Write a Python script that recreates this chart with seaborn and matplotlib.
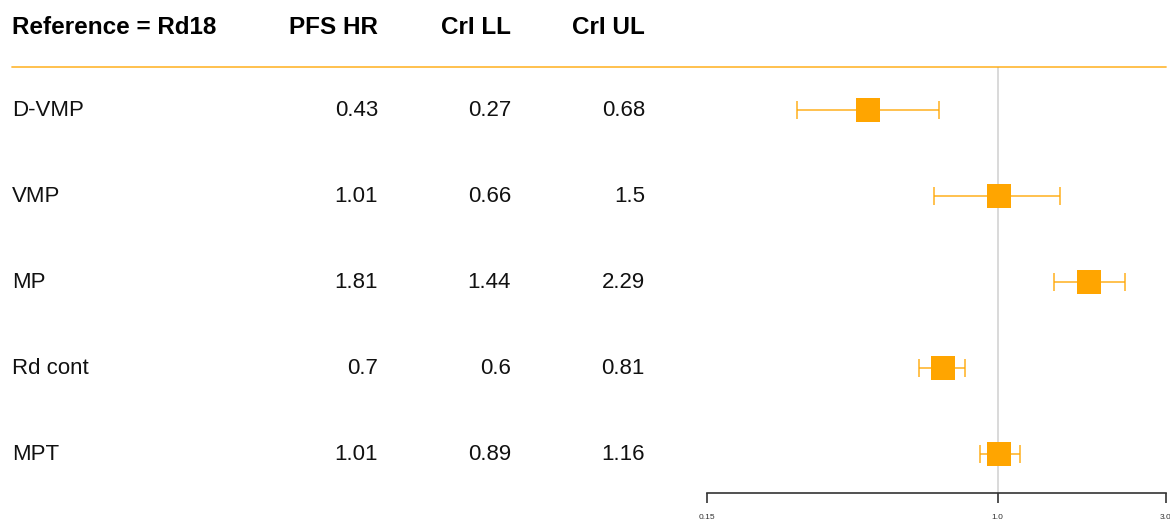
import matplotlib
matplotlib.use("Agg")
import matplotlib.pyplot as plt
import matplotlib.transforms as mtransforms
import pandas as pd
import seaborn as sns

# ---- data ----
treatments = ["D-VMP", "VMP", "MP", "Rd cont", "MPT"]
hr = [0.43, 1.01, 1.81, 0.70, 1.01]
cri_ll = [0.27, 0.66, 1.44, 0.60, 0.89]
cri_ul = [0.68, 1.50, 2.29, 0.81, 1.16]
hr_text = ["0.43", "1.01", "1.81", "0.7", "1.01"]
ll_text = ["0.27", "0.66", "1.44", "0.6", "0.89"]
ul_text = ["0.68", "1.5", "2.29", "0.81", "1.16"]
headers = ["Reference = Rd18", "PFS HR", "CrI LL", "CrI UL"]
x_ticks = [0.15, 1.0, 3.0]
x_tick_labels = ["0.15", "1.0", "3.0"]

df = pd.DataFrame({"treatment": treatments, "hr": hr,
                   "ll": cri_ll, "ul": cri_ul})
df["row"] = range(len(df))

ORANGE = "#FFA500"
W, H = 1170, 522

sns.set_theme(style="white")
plt.rcParams["font.family"] = ["Liberation Sans", "DejaVu Sans"]

fig = plt.figure(figsize=(W / 100, H / 100), dpi=100)
ax = fig.add_axes([707 / W, 1 - 493 / H, (1166 - 707) / W, (493 - 67) / H])

# reference line at HR = 1
ax.axvline(1.0, color="#d3d3d3", lw=1.2, zorder=0)

# credible intervals
ax.errorbar(df["hr"], df["row"],
            xerr=[df["hr"] - df["ll"], df["ul"] - df["hr"]],
            fmt="none", ecolor=ORANGE, elinewidth=1.3, capsize=6.5,
            capthick=1.3, alpha=0.75, zorder=1)

# point estimates
sns.scatterplot(data=df, x="hr", y="row", marker="s", s=275,
                color=ORANGE, edgecolor=ORANGE, linewidth=0, ax=ax, zorder=2)

ax.set_xscale("log")
ax.set_xlim(0.15, 3.0)
ax.set_ylim(4.45, -0.5)
ax.set_xticks(x_ticks)
ax.set_xticklabels(x_tick_labels, fontsize=6)
ax.minorticks_off()
ax.set_yticks([])
ax.set_xlabel("")
ax.set_ylabel("")
for side in ["top", "right", "left"]:
    ax.spines[side].set_visible(False)
ax.spines["bottom"].set_color("#333333")
ax.spines["bottom"].set_linewidth(1.2)
ax.tick_params(axis="x", bottom=True, direction="out", length=7,
               width=1.2, color="#333333", pad=8, labelcolor="#333333")

# ---- table on the left ----
trans = mtransforms.blended_transform_factory(fig.transFigure, ax.transData)
col_x = [12 / W, 378 / W, 511 / W, 645 / W]
col_ha = ["left", "right", "right", "right"]

for i, row in df.iterrows():
    vals = [row["treatment"], hr_text[i], ll_text[i], ul_text[i]]
    for x, ha, v in zip(col_x, col_ha, vals):
        fig.text(x, row["row"], v, transform=trans, ha=ha, va="center",
                 fontsize=16, color="#111111")

for x, ha, h in zip(col_x, col_ha, headers):
    fig.text(x, 1 - 27 / H, h, ha=ha, va="center", fontsize=17.5,
             fontweight="bold", color="black")

# orange separator under the header
fig.add_artist(plt.Line2D([12 / W, 1166 / W], [1 - 67 / H, 1 - 67 / H],
                          transform=fig.transFigure, color=ORANGE,
                          alpha=0.75, lw=1.3))

fig.savefig("out.png", dpi=100)
